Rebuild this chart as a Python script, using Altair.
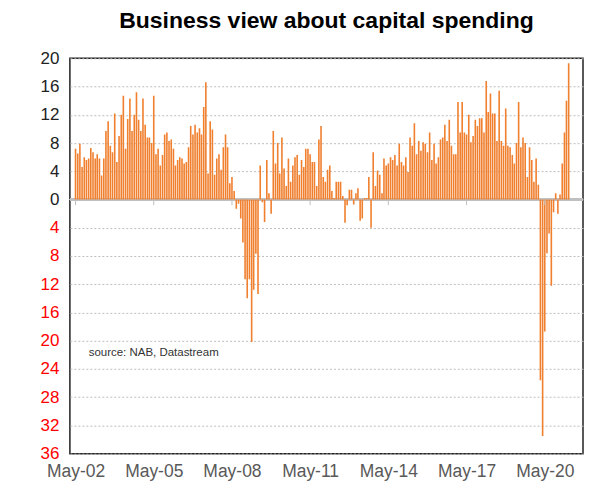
import altair as alt
import pandas as pd

# Monthly values, May-2002 .. Apr-2021
values = [
    7.2, 6.5, 7.9, 4.6, 6.0, 5.6, 5.8, 7.3, 6.7, 5.8,
    6.4, 5.8, 3.4, 5.8, 9.7, 11.1, 7.6, 6.7, 12.2, 5.3,
    9.0, 12.0, 14.7, 7.2, 11.4, 14.3, 9.7, 12.0, 15.2, 11.3,
    9.7, 14.3, 10.6, 8.8, 8.8, 8.0, 14.7, 6.4, 7.2, 4.8,
    6.3, 9.2, 9.5, 8.3, 8.5, 7.2, 4.8, 5.6, 6.0, 5.8,
    5.1, 5.3, 7.4, 10.4, 9.2, 10.6, 9.5, 10.1, 9.2, 13.1,
    16.6, 3.7, 11.1, 9.9, 3.5, 5.8, 6.4, 4.2, 7.4, 9.2,
    7.4, 2.3, 3.2, 1.2,
    -1.3, -0.6, -2.7, -6.1, -11.3, -14.0, -11.3, -20.2, -12.8, -7.7,
    -13.4, 4.8, -0.4, -3.2, 5.6, 0.9, -2.0,
    9.7, 5.1, 8.0, 3.7, 8.8, 4.4, 1.9, 5.8, 2.5, 4.8,
    6.0, 6.3, 3.5, 5.6, 4.6, 7.2, 7.2, 6.4, 5.3, 5.3,
    1.9, 8.5, 10.4,
    3.2, 2.5, 4.2, 4.8, 1.2, 0.2, 2.5, 2.5, 2.5, 0.5,
    -3.3, -0.8, 1.4, 1.4, -0.7, 0.9, 1.6, -3.0, -2.7, 0.2,
    0.2, 3.2, -4.0, 6.7, 1.9, 4.1, 3.5,
    0.9, 5.8, 4.8, 5.1, 6.0, 5.6, 6.3, 4.8, 7.9, 5.3, 4.8,
    6.0, 3.9, 8.8, 7.6, 10.8, 6.4, 8.3, 6.9, 8.1, 7.9,
    6.7, 9.5, 5.6, 7.9, 5.1, 6.0, 8.5, 8.8, 10.6, 8.3,
    11.3, 7.6, 6.4, 6.4, 13.8, 9.5, 13.8, 9.5, 9.2, 12.0,
    8.1, 9.0, 11.3, 10.4, 11.5, 11.5, 9.5,
    16.8,
    12.4, 15.0, 12.2, 12.2, 8.3, 15.4, 8.3, 7.6, 12.9, 7.6,
    7.4, 6.3, 5.1, 8.0, 13.8, 7.4, 8.8, 8.0, 3.2, 7.4,
    5.6, 2.5, 5.8, 2.1,
    -25.6, -33.5, -18.7, -7.6, -4.8, -12.2, -1.8, 0.9, -2.0, 0.7,
    5.1, 9.5, 14.0, 19.3,
]
months = pd.date_range("2002-05-01", periods=len(values), freq="MS").strftime("%Y-%m-%d").tolist()

tick_years = [2002, 2005, 2008, 2011, 2014, 2017, 2020]
y_ticks = list(range(-36, 21, 4))

title_text = "Business view about capital spending"
source_text = "source:  NAB, Datastream"

df = pd.DataFrame({"date": months, "value": values})
ticks_df = pd.DataFrame({"date": [f"{y}-05-01" for y in tick_years]})
src_df = pd.DataFrame({"date": ["2002-11-01"], "value": [-21.7], "label": [source_text]})

x_scale = alt.Scale(
    type="utc",
    domain=[alt.DateTime(year=2002, month=4, date=22, utc=True),
            alt.DateTime(year=2021, month=8, date=10, utc=True)],
)
y_scale = alt.Scale(domain=[-36, 20], nice=False)

x_axis = alt.Axis(
    values=[alt.DateTime(year=y, month=5, date=1, utc=True) for y in tick_years],
    labelExpr="utcFormat(datum.value, '%b-%y')", labelFontSize=17.5, labelColor="#595959",
    labelFont="Liberation Sans", ticks=False, tickSize=0, domain=False, grid=False,
    labelPadding=9, labelOverlap=False, tickCount=20, title=None,
)
y_axis = alt.Axis(
    values=y_ticks, tickCount=30, labelExpr="abs(datum.value)", labelFontSize=17,
    labelFont="Liberation Sans", labelOverlap=False, labelBound=False,
    labelColor={"condition": {"test": "datum.value < 0", "value": "#ff0000"}, "value": "#222222"},
    ticks=False, tickSize=0, domain=False, grid=True, gridDash=[2, 2], gridColor="#bdbdbd",
    gridWidth=1, labelPadding=11, title=None,
)

bars = alt.Chart(df).mark_bar(size=1.6, color="#F07F2E", clip=True).encode(
    x=alt.X("date:T", scale=x_scale, axis=x_axis),
    y=alt.Y("value:Q", scale=y_scale, axis=y_axis),
)

zero = alt.Chart(df).mark_rule(color="#bfbfbf", strokeWidth=1.5).encode(y=alt.datum(0))

xticks = alt.Chart(ticks_df).mark_rule(color="#bfbfbf", strokeWidth=1).encode(
    x=alt.X("date:T", scale=x_scale),
    y=alt.datum(0),
    y2=alt.datum(-0.8),
)

src = alt.Chart(src_df).mark_text(
    align="left", baseline="middle", fontSize=11.5, font="Liberation Sans", color="#333333"
).encode(
    x=alt.X("date:T", scale=x_scale),
    y=alt.Y("value:Q", scale=y_scale),
    text="label:N",
)

chart = alt.layer(zero, bars, xticks, src).properties(
    width=514,
    height=396,
    padding={"left": 32, "top": 2, "right": 2, "bottom": 2},
    title=alt.TitleParams(
        title_text, fontSize=23, font="Liberation Sans", fontWeight="bold",
        color="#000000", anchor="middle", offset=16,
    ),
).configure_view(stroke="#222222", strokeWidth=1.5)

chart.save("out.html", embed_options={"renderer": "svg", "actions": False})
